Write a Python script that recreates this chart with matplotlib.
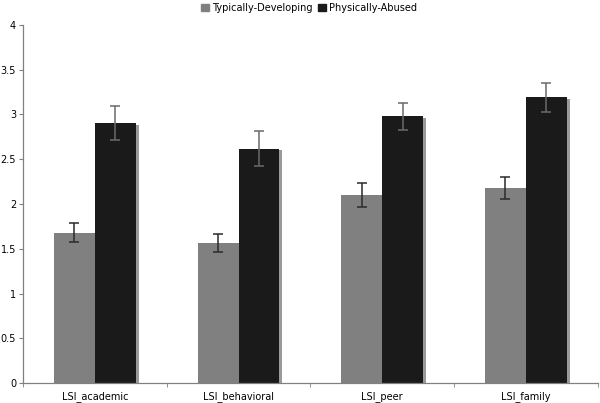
import numpy as np
import matplotlib.pyplot as plt
import matplotlib.patheffects as pe
from matplotlib.patches import Patch

# data
categories = ["LSI_academic", "LSI_behavioral", "LSI_peer", "LSI_family"]
typical_vals = [1.68, 1.56, 2.10, 2.18]
typical_err = [0.11, 0.10, 0.13, 0.12]
abused_vals = [2.90, 2.62, 2.98, 3.19]
abused_err = [0.19, 0.19, 0.15, 0.165]
y_ticks = [0, 0.5, 1, 1.5, 2, 2.5, 3, 3.5, 4]

GRAY = "#808080"
BLACK = "#1a1a1a"

plt.rcParams["font.family"] = ["Verdana", "DejaVu Sans"]

fig = plt.figure(figsize=(6.0, 4.03), dpi=100)
ax = fig.add_axes([0.0383, 0.0496, 0.958, 0.8884])

x = np.arange(len(categories))
w = 0.285
shadow = [pe.SimplePatchShadow(offset=(2, -1), shadow_rgbFace="#9a9a9a", alpha=1), pe.Normal()]

b1 = ax.bar(x - w / 2, typical_vals, w, color=GRAY, zorder=2)
b2 = ax.bar(x + w / 2, abused_vals, w, color=BLACK, zorder=2)
for b in list(b1) + list(b2):
    b.set_path_effects(shadow)

eb_kw = dict(fmt="none", ecolor="#2a2a2a", elinewidth=1.1, capsize=3.5, capthick=1.1, zorder=3)
ax.errorbar(x - w / 2, typical_vals, yerr=typical_err, **eb_kw)
ax.errorbar(x + w / 2, abused_vals, yerr=abused_err, **dict(eb_kw, ecolor="#6a6a6a"))

ax.set_xlim(-0.5, len(categories) - 0.5)
ax.set_ylim(0, 4)
ax.set_yticks(y_ticks)
ax.set_yticklabels([f"{v:g}" for v in y_ticks])
ax.set_xticks(x)
ax.set_xticklabels(categories)
ax.set_xticks(np.arange(len(categories) + 1) - 0.5, minor=True)

for s in ["top", "right"]:
    ax.spines[s].set_visible(False)
for s in ["left", "bottom"]:
    ax.spines[s].set_color("#808080")
    ax.spines[s].set_linewidth(0.9)

ax.tick_params(axis="y", labelsize=7, length=3, color="#808080", pad=2)
ax.tick_params(axis="x", which="major", labelsize=7, length=0, pad=6)
ax.tick_params(axis="x", which="minor", length=3, color="#808080")

handles = [Patch(color=GRAY, label="Typically-Developing"),
           Patch(color=BLACK, label="Physically-Abused")]
fig.legend(handles=handles, loc="upper center", bbox_to_anchor=(0.515, 1.005), ncol=2,
           frameon=False, fontsize=7, handlelength=0.8, handleheight=0.8,
           handletextpad=0.3, columnspacing=0.6, borderaxespad=0.1)

plt.savefig("out.png", dpi=100)
